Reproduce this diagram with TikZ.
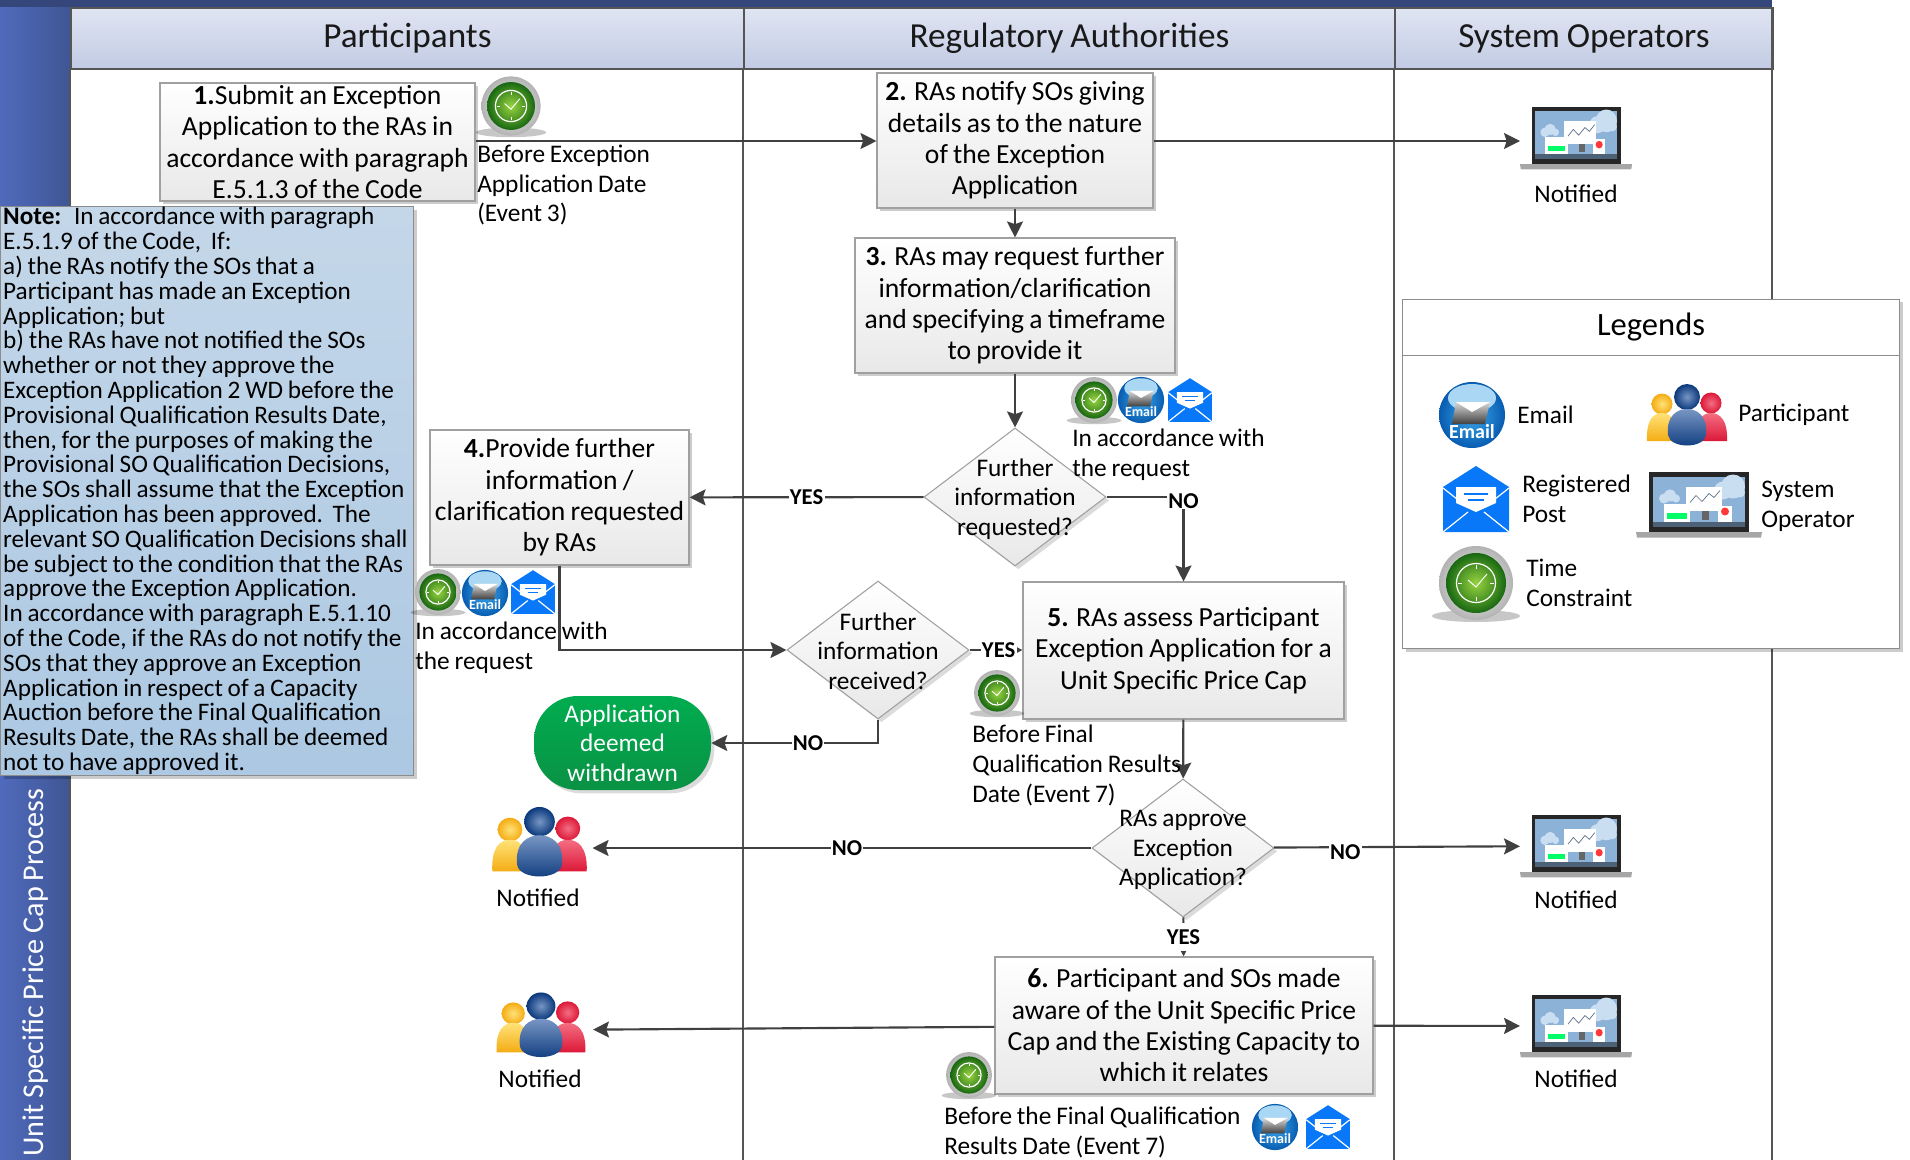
\documentclass[tikz,border=0pt]{standalone}
\usepackage{fontspec}
\setmainfont{Carlito}[WordSpace=0.85]
\usetikzlibrary{arrows.meta,shapes.geometric,shadows}

\definecolor{barblue}{RGB}{52,70,122}
\definecolor{bandleft}{RGB}{80,106,188}
\definecolor{bandright}{RGB}{63,86,148}
\definecolor{headtop}{RGB}{224,229,242}
\definecolor{headbot}{RGB}{194,203,228}
\definecolor{lineclr}{RGB}{64,64,64}
\definecolor{laneclr}{RGB}{85,85,85}
\definecolor{edgeclr}{RGB}{160,160,160}
\definecolor{notetop}{RGB}{196,215,233}
\definecolor{notebot}{RGB}{172,200,226}
\definecolor{appgreen}{RGB}{0,172,80}
\definecolor{appgreenb}{RGB}{10,146,68}
\definecolor{clocklime}{RGB}{152,212,64}
\definecolor{clockdark}{RGB}{24,104,18}
\definecolor{mailmid}{RGB}{60,170,238}
\definecolor{maildark}{RGB}{8,92,176}
\definecolor{mailpale}{RGB}{170,216,244}
\definecolor{postblue}{RGB}{8,120,248}
\definecolor{screenblue}{RGB}{140,178,216}
\definecolor{cloudpale}{RGB}{202,222,242}
\definecolor{pplyellow}{RGB}{244,172,20}
\definecolor{pplyellowl}{RGB}{255,226,120}
\definecolor{pplred}{RGB}{220,24,56}
\definecolor{pplredl}{RGB}{244,110,130}
\definecolor{pplblue}{RGB}{10,56,124}
\definecolor{pplbluel}{RGB}{120,150,196}

\tikzset{
  iconpic/.style={yscale=-1},
  hdrbox/.style={draw=laneclr,line width=1.4pt,top color=headtop,bottom color=headbot,anchor=north west,minimum height=45.75pt,inner sep=0pt,text=black!90,font=\fontsize{26.4}{28}\selectfont},
  procbox/.style={draw=edgeclr,line width=.8pt,top color=white,bottom color=black!9,inner xsep=0pt,inner ysep=-6pt,align=center,font=\fontsize{20.7}{23.5}\selectfont,drop shadow={shadow xshift=2.5pt,shadow yshift=-2.5pt,opacity=.2,fill=black}},
  decshape/.style={shape=diamond,draw=edgeclr,line width=.8pt,top color=white,bottom color=black!9,minimum width=136.5pt,minimum height=103.5pt,inner sep=0pt,drop shadow={shadow xshift=2.5pt,shadow yshift=-2.5pt,opacity=.14,fill=black}},
  dectext/.style={align=center,inner sep=0pt,font=\fontsize{19}{22.2}\selectfont},
  smalltext/.style={align=left,inner sep=0pt,anchor=north west,font=\fontsize{19}{22.2}\selectfont},
  midtext/.style={align=center,inner sep=0pt,font=\fontsize{19}{22.2}\selectfont},
  yesno/.style={fill=white,inner xsep=1pt,inner ysep=0pt,font=\fontsize{17}{20}\selectfont\bfseries},
  conn/.style={draw=lineclr,line width=1.6pt,-{Stealth[length=12pt,width=12pt,inset=2pt]}},
  iconbox/.style={inner sep=0pt,outer sep=0pt},
  legendbox/.style={draw=black!45,fill=white,line width=.8pt,anchor=north west,inner sep=0pt},
  clockicon/.pic={
    \path [fill=black,opacity=.22] (0,33) ellipse (44 and 6);
    \shade [inner color=white,outer color=black!30] (0,0) circle (37);
    \shade [inner color=clocklime,outer color=clockdark] (0,0) circle (30);
    \draw [white,line width=.9pt] (0,0) circle (19.5);
    \draw [white,line width=.7pt] (-8,-3) -- (0,4) -- (11,-9);
    \draw [white,line width=.5pt] (0,-18) -- (0,-14) (0,18) -- (0,14) (-18,0) -- (-14,0) (18,0) -- (14,0);
  },
  emailicon/.pic={
    \shade [inner color=mailmid,outer color=maildark] (0,0) circle (33);
    \fill [mailpale] (0,-17) ellipse (24 and 14);
    \shade [top color=black!15,bottom color=black!75] (-16,-13) -- (18,-13) -- (13,9) -- (-20,9) -- cycle;
    \fill [white] (-16,-13) -- (18,-13) -- (0,-3) -- cycle;
    \node (-txt) [transform shape,yscale=-1,text=white,inner sep=0pt,font=\fontsize{15}{16}\selectfont\bfseries] at (0,17) {Email};
  },
  posticon/.pic={
    \fill [postblue] (-33,-12) -- (0,-33) -- (33,-12) -- (33,33) -- (-33,33) -- cycle;
    \draw [white,line width=.9pt] (-33,-11) -- (-14,4) (33,-11) -- (14,4) (-33,33) -- (-8,13) (33,33) -- (8,13);
    \fill [white] (-20,-12) -- (20,-12) -- (20,4) -- (0,13) -- (-20,4) -- cycle;
    \draw [postblue,line width=1pt] (-12,-5) -- (12,-5) (-8,1) -- (8,1);
  },
  peopleicon/.pic={
    \shade [inner color=pplyellowl,outer color=pplyellow] (-25,-11) circle (10.5);
    \shade [top color=pplyellowl,bottom color=pplyellow] (-40,26) .. controls (-41,4) and (-33,-2) .. (-25,-2) .. controls (-17,-2) and (-9,4) .. (-10,26) -- cycle;
    \shade [inner color=pplredl,outer color=pplred] (24,-12) circle (10.5);
    \shade [top color=pplredl,bottom color=pplred] (9,26) .. controls (8,4) and (16,-2) .. (24,-2) .. controls (32,-2) and (41,4) .. (40,26) -- cycle;
    \shade [inner color=pplbluel,outer color=pplblue] (0,-18) circle (13);
    \shade [top color=pplbluel,bottom color=pplblue] (-19,20) .. controls (-21,1) and (-10,-6) .. (0,-6) .. controls (10,-6) and (21,1) .. (19,20) .. controls (17,34) and (-17,34) .. (-19,20) -- cycle;
  },
  laptopicon/.pic={
    \fill [black!85] (-50,-32.5) rectangle (50,27.5);
    \fill [screenblue] (-46,-28) rectangle (46,22);
    \fill [black!45!screenblue] (-46,17) rectangle (46,22);
    \fill [cloudpale] (24,-14) circle (9) (34,-18) circle (12) (41,-12) circle (5);
    \fill [cloudpale] (-35,-6) circle (5) (-29,-9) circle (6) (-23,-6) circle (4);
    \fill [black!60] (3,5) rectangle (10,15);
    \fill [white] (-13,-18) rectangle (23,6);
    \draw [screenblue!60!black,line width=.5pt] (-9,-2) -- (-3,-9) -- (3,-3) -- (10,-11) -- (15,-7) -- (21,-14);
    \fill [white] (-35,-1) rectangle (-9,17);
    \fill [green!60!cyan] (-32,8) rectangle (-12,14);
    \fill [white] (19,1) rectangle (33,17);
    \fill [red!70!pink] (26,7) circle (4);
    \fill [black!35] (-63,27.5) -- (63,27.5) -- (62,33) -- (-62,33) -- cycle;
  },
}

\begin{document}
\begin{tikzpicture}[x=0.75pt,y=0.75pt,yscale=-1,xscale=1]
\useasboundingbox (0,0) rectangle (1910,1160);

%Shape: Rectangle top bar and side band
\fill [barblue] (0,0) rectangle (1772,7);
\shade [left color=bandleft,right color=bandright] (0,7) rectangle (70,1160);

% Text Node
\node (bandlbl) [anchor=west,rotate=90,inner sep=0pt,text=white,font=\fontsize{22.6}{28}\selectfont] at (36,1157) {Unit Specific Price Cap Process};

%Shape: Rectangle lane headers
\node (hdrpart) [hdrbox,minimum width=504.75pt] at (70,7) {Participants};
\node (hdrreg) [hdrbox,minimum width=488.25pt] at (743,7) {Regulatory Authorities};
\node (hdrsys) [hdrbox,minimum width=283.5pt] at (1394,7) {System Operators};

%Straight Lines lanes
\draw [laneclr,line width=1.4pt] (70,68) -- (70,1160);
\draw [laneclr,line width=1.4pt] (743,68) -- (743,1160);
\draw [laneclr,line width=1.4pt] (1394,68) -- (1394,1160);
\draw [laneclr,line width=1.4pt] (1772,7) -- (1772,1160);

%Shape: Rectangle process boxes
\node (subbox) [procbox,minimum width=236.25pt,minimum height=88.5pt] at (317.5,142) {\textbf{1.}Submit an Exception\\Application to the RAs in\\accordance with paragraph\\E.5.1.3 of the Code};
\node (notifybox) [procbox,minimum width=207pt,minimum height=101.25pt] at (1015,140.5) {\textbf{2.} RAs notify SOs giving\\details as to the nature\\of the Exception\\Application};
\node (reqbox) [procbox,minimum width=240pt,minimum height=101.25pt] at (1015,305.5) {\textbf{3.} RAs may request further\\information/clarification\\and specifying a timeframe\\to provide it};
\node (provbox) [procbox,minimum width=194.25pt,minimum height=101.25pt] at (559.5,497.5) {\textbf{4.}Provide further\\information /\\clarification requested\\by RAs};
\node (assessbox) [procbox,minimum width=240.75pt,minimum height=102.75pt] at (1183.5,650.5) {\textbf{5.} RAs assess Participant\\Exception Application for a\\Unit Specific Price Cap};
\node (awarebox) [procbox,minimum width=283.5pt,minimum height=102.75pt] at (1184,1025.5) {\textbf{6.} Participant and SOs made\\aware of the Unit Specific Price\\Cap and the Existing Capacity to\\which it relates};

%Shape: Diamond decisions
\node (reqdia) [decshape] at (1015,497) {};
\node (recdia) [decshape] at (878,650) {};
\node (appdia) [decshape] at (1183,848) {};
\node (reqdiatxt) [dectext] at (1015,499) {Further\\information\\requested?};
\node (recdiatxt) [dectext] at (878,651) {Further\\information\\received?};
\node (appdiatxt) [dectext] at (1183,850) {RAs approve\\Exception\\Application?};

%Shape: Rounded rectangle
\node (appnode) [rounded corners=33pt,top color=appgreen,bottom color=appgreenb,minimum width=132.75pt,minimum height=70.5pt,inner sep=0pt,align=center,text=white,font=\fontsize{19}{22.2}\selectfont,drop shadow={shadow xshift=2.5pt,shadow yshift=-2.5pt,opacity=.14,fill=black}] at (622.5,743) {Application\\deemed\\withdrawn};

%Shape: icon places
\node (sonote) [iconbox,minimum width=84pt,minimum height=46.5pt] at (1576,138) {};
\node (sorej) [iconbox,minimum width=84pt,minimum height=46.5pt] at (1576,846) {};
\node (soaware) [iconbox,minimum width=84pt,minimum height=46.5pt] at (1576,1026) {};
\node (partrej) [iconbox,minimum width=79.5pt,minimum height=52pt] at (539.5,848) {};
\node (partaware) [iconbox,minimum width=79.5pt,minimum height=48pt] at (540,1030) {};

%Straight Lines
\draw [conn] (subbox.east |- 0,141) -- (notifybox.west |- 0,141);
\draw [conn] (notifybox.east |- 0,141) -- (sonote.west |- 0,141);
\draw [conn] (notifybox) -- (reqbox);
\draw [conn] (reqbox) -- (reqdia);
\draw [conn] (reqdia) -- node [yesno] (yeslbla) {YES} (provbox);
\draw [conn] (reqdia) -| node [yesno,pos=.5,yshift=-3pt] (nolbla) {NO} (assessbox);
\draw [conn] (provbox) |- (recdia);
\draw [conn] (recdia.east) -- node [yesno,pos=.55] (yeslblb) {YES} (assessbox.west |- recdia.east);
\draw [conn] (recdia.south) |- node [yesno,pos=.71] (nolblb) {NO} (appnode.east);
\draw [conn] (assessbox) -- (appdia);
\draw [conn] (appdia) -- node [yesno,pos=.49] (nolblc) {NO} (partrej);
\draw [conn] (appdia) -- node [yesno,pos=.29,yshift=-4pt] (nolbld) {NO} (sorej);
\draw [conn] (appdia) -- node [yesno,pos=.5,inner ysep=5pt] (yeslblc) {YES} (awarebox);
\draw [conn] (awarebox) -- (partaware);
\draw [conn] (awarebox) -- (soaware);

%Shape: Rectangle note
\node (notebox) [anchor=north west,draw=black!45,line width=.8pt,top color=notetop,bottom color=notebot,inner xsep=2pt,inner ysep=0pt,text width=305.7pt,minimum height=426.75pt,align=left,font=\fontsize{18.9}{18.6}\selectfont,drop shadow={shadow xshift=2.5pt,shadow yshift=-2.5pt,opacity=.2,fill=black}] at (0,206) {\spaceskip=.19em\relax \textbf{Note:} In accordance with paragraph\\E.5.1.9 of the Code,~~If:\\a) the RAs notify the SOs that a\\Participant has made an Exception\\Application; but\\b) the RAs have not notified the SOs\\whether or not they approve the\\Exception Application 2 WD before the\\Provisional Qualification Results Date,\\then, for the purposes of making the\\Provisional SO Qualification Decisions,\\the SOs shall assume that the Exception\\Application has been approved.~~The\\relevant SO Qualification Decisions shall\\be subject to the condition that the RAs\\approve the Exception Application.\\In accordance with paragraph E.5.1.10\\of the Code, if the RAs do not notify the\\SOs that they approve an Exception\\Application in respect of a Capacity\\Auction before the Final Qualification\\Results Date, the RAs shall be deemed\\not to have approved it.};

%Shape: Rectangle legend
\node (legbox) [legendbox,minimum width=372.75pt,minimum height=262pt,drop shadow={shadow xshift=2.5pt,shadow yshift=-2.5pt,opacity=.2,fill=black}] at (1402,298.5) {};
\node (leghead) [legendbox,minimum width=372.75pt,minimum height=42.5pt,font=\fontsize{24.4}{26}\selectfont] at (1402,298.5) {Legends};

%Icons
\pic (clka) [iconpic,scale=.8] at (511,106) {clockicon};
\pic (clkb) [iconpic,scale=.62] at (1094,400) {clockicon};
\pic (clkc) [iconpic,scale=.62] at (438,592) {clockicon};
\pic (clkd) [iconpic,scale=.62] at (997,693) {clockicon};
\pic (clke) [iconpic,scale=.62] at (969,1075) {clockicon};
\pic (clkleg) [iconpic] at (1476,583) {clockicon};
\pic (emb) [iconpic,scale=.7] at (1141,400) {emailicon};
\pic (emc) [iconpic,scale=.7] at (485,593) {emailicon};
\pic (eme) [iconpic,scale=.7] at (1275,1127) {emailicon};
\pic (emleg) [iconpic] at (1472,415) {emailicon};
\pic (pob) [iconpic,scale=.66] at (1190,400) {posticon};
\pic (poc) [iconpic,scale=.66] at (533,592) {posticon};
\pic (poe) [iconpic,scale=.66] at (1328,1127) {posticon};
\pic (poleg) [iconpic] at (1476,499) {posticon};
\pic (pplrej) [iconpic,xscale=1.18,yscale=1.13] at (539.5,842) {peopleicon};
\pic (pplaware) [iconpic,xscale=1.11,yscale=1.05] at (541,1025) {peopleicon};
\pic (pplleg) [iconpic] at (1687,415) {peopleicon};
\pic (lapa) [iconpic,xscale=.89,yscale=.95] at (1576,138) {laptopicon};
\pic (lapb) [iconpic,xscale=.89,yscale=.95] at (1576,846) {laptopicon};
\pic (lapc) [iconpic,xscale=.89,yscale=.95] at (1576,1026) {laptopicon};
\pic (lapleg) [iconpic] at (1699,504.5) {laptopicon};

% Text Node
\node (txta) [smalltext] at (477,145) {Before Exception\\Application Date\\(Event 3)};
\node (txtb) [smalltext] at (1072,429) {In accordance with\\the request};
\node (txtc) [smalltext] at (415,622) {In accordance with\\the request};
\node (txtd) [smalltext] at (972,725) {Before Final\\Qualification Results\\Date (Event 7)};
\node (txte) [smalltext] at (944,1107) {Before the Final Qualification\\Results Date (Event 7)};
\node (notifa) [midtext] at (1576,194) {Notified};
\node (notifb) [midtext] at (1576,900) {Notified};
\node (notifc) [midtext] at (1576,1079) {Notified};
\node (notifd) [midtext] at (538,898) {Notified};
\node (notife) [midtext] at (540,1079) {Notified};
\node (legem) [anchor=west,midtext] at (1517,415) {Email};
\node (legpart) [anchor=west,midtext] at (1738,415) {Participant};
\node (legpost) [smalltext] at (1522,475) {Registered\\Post};
\node (legso) [smalltext] at (1761,481) {System\\Operator};
\node (legtime) [smalltext] at (1526,559) {Time\\Constraint};

\end{tikzpicture}
\end{document}
